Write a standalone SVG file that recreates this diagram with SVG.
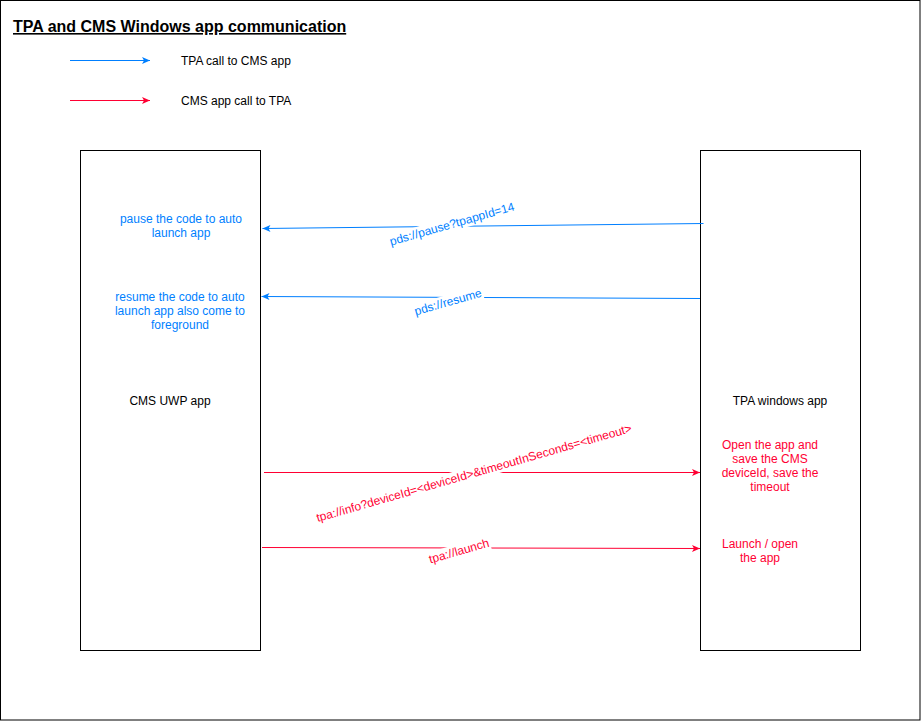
<svg xmlns="http://www.w3.org/2000/svg" width="921" height="721" viewBox="0 0 921 721">
<defs>
<style>
text{font-family:"Liberation Sans",Arial,sans-serif;font-size:12px}
.box{fill:#fff;stroke:#000;stroke-width:1}
.b{fill:#007FFF}
.r{fill:#FF0033}
.k{fill:#000}
.lb{stroke:#007FFF;stroke-width:1;fill:none;marker-end:url(#mb)}
.lr{stroke:#FF0033;stroke-width:1;fill:none;marker-end:url(#mr)}
.bg{fill:#fff}
</style>
<marker id="mb" viewBox="0 0 10 8" refX="9" refY="4" markerWidth="10" markerHeight="8" orient="auto" markerUnits="userSpaceOnUse"><path d="M1,0.5 L9,4 L1,7.5 L3,4 Z" fill="#007FFF"/></marker>
<marker id="mr" viewBox="0 0 10 8" refX="9" refY="4" markerWidth="10" markerHeight="8" orient="auto" markerUnits="userSpaceOnUse"><path d="M1,0.5 L9,4 L1,7.5 L3,4 Z" fill="#FF0033"/></marker>
</defs>
<rect x="0.5" y="0.5" width="919.5" height="719.5" fill="#fff" stroke="#000"/>
<g id="title"><text x="13" y="32" style="font-size:16px;font-weight:bold;text-decoration:underline" class="k">TPA and CMS Windows app communication</text></g>
<g id="legend">
<line x1="70" y1="60.5" x2="150" y2="60.5" class="lb"/>
<text x="181" y="65" class="k">TPA call to CMS app</text>
<line x1="70" y1="100.5" x2="150" y2="100.5" class="lr"/>
<text x="181" y="105" class="k">CMS app call to TPA</text>
</g>
<g id="cms-uwp-app">
<rect x="80.5" y="150.5" width="180" height="500" class="box"/>
<text x="170" y="405" text-anchor="middle" class="k">CMS UWP app</text>
<text text-anchor="middle" class="b"><tspan x="181" y="223">pause the code to auto</tspan><tspan x="181" y="237">launch app</tspan></text>
<text text-anchor="middle" class="b"><tspan x="180" y="301">resume the code to auto</tspan><tspan x="180" y="315">launch app also come to</tspan><tspan x="180" y="329">foreground</tspan></text>
</g>
<g id="tpa-windows-app">
<rect x="700.5" y="150.5" width="160" height="500" class="box"/>
<text x="780" y="405" text-anchor="middle" class="k">TPA windows app</text>
<text text-anchor="middle" class="r"><tspan x="770" y="449">Open the app and</tspan><tspan x="770" y="463">save the CMS</tspan><tspan x="770" y="477">deviceId, save the</tspan><tspan x="770" y="491">timeout</tspan></text>
<text text-anchor="middle" class="r"><tspan x="760" y="548">Launch / open</tspan><tspan x="760" y="562">the app</tspan></text>
</g>
<g id="connectors">
<line x1="703.5" y1="223.5" x2="262.5" y2="228.5" class="lb"/>
<g transform="rotate(-16 452 224)"><rect x="386" y="217" width="132" height="14" class="bg"/><text x="452" y="228" text-anchor="middle" class="b">pds://pause?tpappId=14</text></g>
<line x1="700" y1="298.5" x2="261.5" y2="296.5" class="lb"/>
<g transform="rotate(-16 448 302)"><rect x="412" y="295" width="72" height="14" class="bg"/><text x="448" y="306" text-anchor="middle" class="b">pds://resume</text></g>
<line x1="264" y1="472.5" x2="700" y2="472.5" class="lr"/>
<g transform="rotate(-16 474 473)"><rect x="307" y="466" width="334" height="14" class="bg"/><text x="474" y="477" text-anchor="middle" class="r">tpa://info?deviceId=&lt;deviceId&gt;&amp;timeoutInSeconds=&lt;timeout&gt;</text></g>
<line x1="262" y1="547.5" x2="700" y2="548.5" class="lr"/>
<g transform="rotate(-16 459 551)"><rect x="427" y="544" width="64" height="14" class="bg"/><text x="459" y="555" text-anchor="middle" class="r">tpa://launch</text></g>
</g>
</svg>
